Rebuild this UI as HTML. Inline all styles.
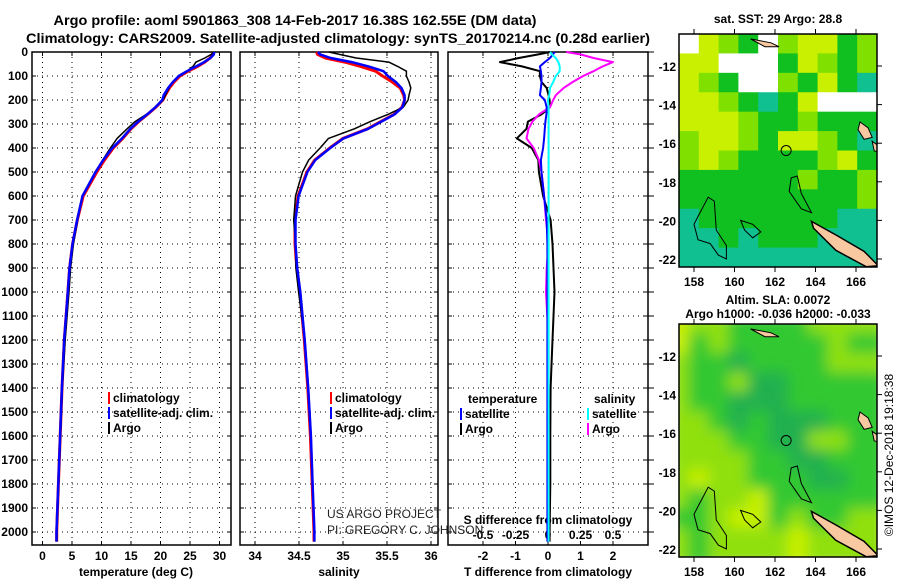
<!DOCTYPE html>
<html><head><meta charset="utf-8"><style>
body{margin:0;background:#fff}
svg{display:block;font-family:"Liberation Sans",sans-serif}
.b{font-weight:bold;font-size:12px}
</style></head><body>
<svg id="s" width="900" height="580" viewBox="0 0 900 580" xmlns="http://www.w3.org/2000/svg">
<defs>
<filter id="blur" x="0" y="0" width="1" height="1"><feGaussianBlur stdDeviation="7"/></filter>
<clipPath id="c1"><rect x="679" y="34" width="198" height="233"/></clipPath>
<clipPath id="c2"><rect x="679" y="324" width="198" height="233"/></clipPath>
</defs>
<text x="295" y="25" class="b" style="font-size:14px" text-anchor="middle" textLength="483" lengthAdjust="spacingAndGlyphs">Argo profile: aoml 5901863_308 14-Feb-2017 16.38S 162.55E (DM data)</text>
<text x="338" y="43" class="b" style="font-size:14px" text-anchor="middle" textLength="624" lengthAdjust="spacingAndGlyphs">Climatology: CARS2009. Satellite-adjusted climatology: synTS_20170214.nc (0.28d earlier)</text>
<g id="plots"></g>
<g id="maps"></g>
<text transform="translate(893,455) rotate(-90)" text-anchor="middle" font-size="12">©IMOS 12-Dec-2018 19:18:38</text>
</svg>
<script>
const depths=[0,10,25,42,60,80,100,125,150,180,200,230,260,290,320,360,400,450,500,600,700,800,900,1000,1200,1400,1600,1800,2000,2040];
const tempClim=[28.9,28.9,28.4,27.5,26.3,24.7,23.3,22.3,21.5,20.8,20.4,19.2,17.8,16.3,15.0,13.6,12.0,10.5,9.2,6.9,5.9,5.1,4.6,4.3,3.7,3.3,3.0,2.7,2.4,2.4];
const tempSatDiff=[0.21,0.15,0.06,-0.1,-0.25,-0.22,-0.2,-0.2,-0.22,-0.25,-0.1,-0.04,-0.05,-0.08,-0.1,-0.12,-0.15,-0.22,-0.2,-0.12,-0.04,-0.02,-0.02,-0.02,-0.02,-0.02,-0.02,-0.02,-0.02,-0.02];
const tempArgoDiff=[0.06,-0.3,-0.9,-1.48,-0.8,-0.25,-0.25,-0.2,-0.04,0.02,0.05,0.06,-0.2,-0.62,-0.66,-0.96,-0.5,-0.3,-0.28,-0.15,0.08,0.14,0.17,0.2,0.14,0.08,0.07,0.07,0.05,0.05];
const salClim=[34.70,34.71,34.80,35.02,35.2,35.37,35.45,35.56,35.65,35.69,35.70,35.67,35.58,35.43,35.28,35.0,34.85,34.68,34.59,34.49,34.455,34.455,34.475,34.51,34.56,34.6,34.63,34.65,34.67,34.67];
const salSatDiff=[0.015,0.03,0.06,0.08,0.09,0.09,0.06,0.04,0.015,0.01,0,0.005,0.005,0.005,0.005,0.005,0.005,0.005,0.005,0.005,0.005,0.005,0.005,0.005,0.005,0.005,0.005,0.005,0.005,0.005];
const salArgoDiff=[0.14,0.25,0.35,0.5,0.42,0.35,0.27,0.19,0.12,0.06,0.04,0.015,-0.07,-0.12,-0.15,-0.165,-0.11,-0.07,-0.05,-0.03,-0.015,0.005,-0.01,-0.015,0.005,0.005,0.005,0.005,0.005,0.005];
const depthTicks=[0,100,200,300,400,500,600,700,800,900,1000,1100,1200,1300,1400,1500,1600,1700,1800,1900,2000];
const tempTicks=[0,5,10,15,20,25,30];
const salTicks=[34,34.5,35,35.5,36];
const tdiffTicks=[-2,-1,0,1,2];
const sdiffTicks=[-0.5,-0.25,0,0.25,0.5];
const sdiffLabels=["-0.5","-0.25","0","0.25","0.5"];
const latTicks=[-12,-14,-16,-18,-20,-22];
const lonTicks=[158,160,162,164,166];

const NS='http://www.w3.org/2000/svg';
const plots=document.getElementById('plots');
function el(tag,attrs,parent,txt){const e=document.createElementNS(NS,tag);for(const k in attrs)e.setAttribute(k,attrs[k]);if(txt!==undefined)e.textContent=txt;(parent||plots).appendChild(e);return e;}
const TOP=52,BOT=545;
const yD=d=>TOP+0.24*d;
const xT=t=>42.5+5.9*t;
const xS=s=>255+88*(s-34);
const xTd=d=>548+32.5*d;
const xSd=d=>548+130*d;

const panels=[{x0:32,x1:231,name:'temperature-panel'},{x0:240,x1:438,name:'salinity-panel'},{x0:448,x1:648,name:'difference-panel'}];
const gxs=[tempTicks.map(xT),salTicks.map(xS),tdiffTicks.map(xTd)];
panels.forEach((p,i)=>{
  const g=el('g',{});
  
  
  depthTicks.forEach(d=>{const l=el('line',{x1:p.x0,x2:p.x1,y1:yD(d),y2:yD(d),stroke:'#000','stroke-width':1,'stroke-dasharray':'1,4'},g);
    
    el('line',{x1:p.x0,x2:p.x0+4,y1:yD(d),y2:yD(d),stroke:'#000'},g);
    el('line',{x1:p.x1,x2:p.x1-4,y1:yD(d),y2:yD(d),stroke:'#000'},g);});
  gxs[i].forEach(x=>{const l=el('line',{x1:x,x2:x,y1:TOP,y2:BOT,stroke:'#000','stroke-dasharray':'1,4'},g);
    
    el('line',{x1:x,x2:x,y1:BOT,y2:BOT-4,stroke:'#000'},g);el('line',{x1:x,x2:x,y1:TOP,y2:TOP+4,stroke:'#000'},g);});
  const r=el('rect',{x:p.x0,y:TOP,width:p.x1-p.x0,height:BOT-TOP,fill:'none',stroke:'#000','stroke-width':1.5},g);
  
});
// right outside ticks on diff panel
depthTicks.forEach(d=>el('line',{x1:648,x2:654,y1:yD(d),y2:yD(d),stroke:'#000'}));
// depth labels
depthTicks.forEach(d=>{const t=el('text',{x:28,y:yD(d)+4,'text-anchor':'end',class:'b'},plots,String(d));
  });
function xlabels(ticks,fx,labels,y,name){ticks.forEach((v,i)=>{const t=el('text',{x:fx(v),y:y,'text-anchor':'middle',class:'b'},plots,labels?labels[i]:String(v));
  });}
xlabels(tempTicks,xT,null,560,'temperature-tick-label');
xlabels(salTicks,xS,null,560,'salinity-tick-label');
xlabels(tdiffTicks,xTd,null,560,'t-difference-tick-label');
xlabels(sdiffTicks,xSd,sdiffLabels,539,'s-difference-tick-label');
[[136,'temperature (deg C)','temperature-axis-title'],[339,'salinity','salinity-axis-title'],[548,'T difference from climatology','t-difference-axis-title']].forEach(a=>{
  const t=el('text',{x:a[0],y:576,'text-anchor':'middle',class:'b'},plots,a[1]);});
{const t=el('text',{x:548,y:524,'text-anchor':'middle',class:'b'},plots,'S difference from climatology');}

function line(fx,vals,color,w,name){
  const pts=depths.map((d,i)=>fx(vals[i]).toFixed(1)+','+yD(d).toFixed(1)).join(' ');
  const p=el('polyline',{points:pts,fill:'none',stroke:color,'stroke-width':w,'stroke-linejoin':'round'});
  
}
const tempSat=tempClim.map((v,i)=>v+tempSatDiff[i]);
const tempArgo=tempClim.map((v,i)=>v+tempArgoDiff[i]);
const salSat=salClim.map((v,i)=>v+salSatDiff[i]);
const salArgo=salClim.map((v,i)=>v+salArgoDiff[i]);
line(xT,tempClim,'#f00',3,'temperature-climatology-line');
line(xT,tempArgo,'#000',1.5,'temperature-argo-line');
line(xT,tempSat,'#00f',2.5,'temperature-satellite-line');
line(xS,salClim,'#f00',3,'salinity-climatology-line');
line(xS,salArgo,'#000',1.5,'salinity-argo-line');
line(xS,salSat,'#00f',2.5,'salinity-satellite-line');
line(xTd,tempArgoDiff,'#000',2,'t-difference-argo-line');
line(xSd,salArgoDiff,'#f0f',2,'s-difference-argo-line');
line(xTd,tempSatDiff,'#00f',2,'t-difference-satellite-line');
line(xSd,salSatDiff,'#0ff',2,'s-difference-satellite-line');

function legend(x,y,color,label,name){
  const g=el('g',{});
  el('rect',{x:x,y:y-10,width:2,height:12,fill:color},g);
  el('text',{x:x+5,y:y,class:'b'},g,label);
}
legend(108,402,'#f00','climatology','legend-climatology');
legend(108,417,'#00f','satellite-adj. clim.','legend-satellite-adj');
legend(108,432,'#000','Argo','legend-argo');
legend(330,402,'#f00','climatology','legend-climatology-salinity');
legend(330,417,'#00f','satellite-adj. clim.','legend-satellite-adj-salinity');
legend(330,432,'#000','Argo','legend-argo-salinity');
{const t=el('text',{x:468,y:403,class:'b'},plots,'temperature');}
{const t=el('text',{x:594,y:403,class:'b'},plots,'salinity');}
legend(460,418,'#00f','satellite','legend-t-satellite');
legend(460,433,'#000','Argo','legend-t-argo');
legend(587,418,'#0ff','satellite','legend-s-satellite');
legend(587,433,'#f0f','Argo','legend-s-argo');
{const t=el('text',{x:327,y:518,'font-size':12,fill:'#222'},plots,'US ARGO PROJECT');}
{const t=el('text',{x:327,y:534,'font-size':12,fill:'#222'},plots,'PI: GREGORY C. JOHNSON');}

// maps
const sstRows=["wylgwlyygl","yywwwgylgl","ylgwwlgygt","yylgtgywww","yyylgglggg","lyylgyylgt","lylgggglyg","gggggglggl","gggggggggl","tgggggggtt","ttgtgggttt","tttttttttt"];
const slaRows=["yllgggglll","yglggggglg","lggdggggll","lgglddgggg","lggdddgggg","llgdgdddgg","lllggddllg","llllggddgg","lyllgggddg","lgllyggggg","gglyyglggl","lgllllylll"];
const sstColors={w:'#ffffff',y:'#c8f000',l:'#80e000',g:'#10c020',t:'#10c090'};
const slaColors={y:'#c8f000',l:'#90e010',g:'#30c830',d:'#20b050'};
const maps=document.getElementById('maps');
function drawMap(y0,rows,colors,blur,clip,name,title1,title2){
  const g=el('g',{},maps);
  const cg=el('g',{'clip-path':'url(#'+clip+')'},g);
  const inner=el('g',blur?{filter:'url(#blur)'}:{},cg);
  const cw=198/rows[0].length,ch=233/rows.length;
  rows.forEach((r,ri)=>[...r].forEach((c,ci)=>{
    el('rect',{x:679+ci*cw-(blur?10:0),y:y0+ri*ch-(blur?10:0),width:cw+(blur?20:0.5),height:ch+(blur?20:0.5),fill:colors[c]},inner);
  }));
  const X=lon=>694+(lon-158)*20.25, Y=lat=>y0+32+(-12-lat)*19.3;
  const P=a=>a.map(p=>X(p[0]).toFixed(1)+','+Y(p[1]).toFixed(1)).join(' ');
  el('polygon',{points:P([[163.8,-20.05],[165,-20.75],[166.4,-21.6],[167.1,-22.35],[166.5,-22.4],[165,-21.55],[163.9,-20.4]]),fill:'#f8c8a0',stroke:'#000','stroke-width':1.5},cg);
  el('polygon',{points:P([[166.2,-14.9],[166.6,-15.2],[166.8,-15.7],[166.4,-15.8],[166.1,-15.3]]),fill:'#f8c8a0',stroke:'#000'},cg);
  el('polygon',{points:P([[166.8,-15.9],[167.2,-16.2],[167.3,-16.5],[166.9,-16.4]]),fill:'#f8c8a0',stroke:'#000'},cg);
  el('polygon',{points:P([[160.8,-10.6],[161.8,-10.8],[162.2,-11.0],[161.5,-11.0]]),fill:'#f8c8a0',stroke:'#000'},cg);
  el('polygon',{points:P([[158.2,-19.8],[158.7,-18.8],[159.0,-19.0],[159.1,-20.5],[159.6,-21.3],[159.6,-22.0],[159.2,-21.8],[158.8,-21.2],[158.2,-21.0],[158.0,-20.2]]),fill:'none',stroke:'#000'},cg);
  el('polygon',{points:P([[162.8,-17.8],[163.1,-17.7],[163.3,-18.6],[163.8,-19.6],[163.3,-19.4],[162.7,-18.5]]),fill:'none',stroke:'#000'},cg);
  el('polygon',{points:P([[160.3,-20.0],[160.9,-20.2],[161.3,-20.6],[160.9,-20.9],[160.5,-20.5]]),fill:'none',stroke:'#000'},cg);
  el('circle',{cx:X(162.55),cy:Y(-16.38),r:5,fill:'none',stroke:'#000'},cg);
  const fr=el('rect',{x:679,y:y0,width:198,height:233,fill:'none',stroke:'#000','stroke-width':1.5},g);
  latTicks.forEach(l=>{el('line',{x1:877,x2:882,y1:Y(l),y2:Y(l),stroke:'#000'},g);
    const t=el('text',{x:676,y:Y(l)+5,'text-anchor':'end',class:'b','font-size':13},g,String(l));});
  lonTicks.forEach(l=>{el('line',{x1:X(l),x2:X(l),y1:y0,y2:y0-5,stroke:'#000'},g);el('line',{x1:X(l),x2:X(l),y1:y0+233,y2:y0+238,stroke:'#000'},g);
    const t=el('text',{x:X(l),y:y0+252,'text-anchor':'middle',class:'b','font-size':13},g,String(l));});
  const t1=el('text',{x:778,y:title2?y0-20:y0-11,'text-anchor':'middle',class:'b'},g,title1);
  if(title2){const t2=el('text',{x:778,y:y0-6,'text-anchor':'middle',class:'b'},g,title2);}
}
drawMap(34,sstRows,sstColors,false,'c1','sst-map','sat. SST: 29 Argo: 28.8');
drawMap(324,slaRows,slaColors,true,'c2','sla-map','Altim. SLA: 0.0072','Argo h1000: -0.036 h2000: -0.033');
</script>
</body></html>
